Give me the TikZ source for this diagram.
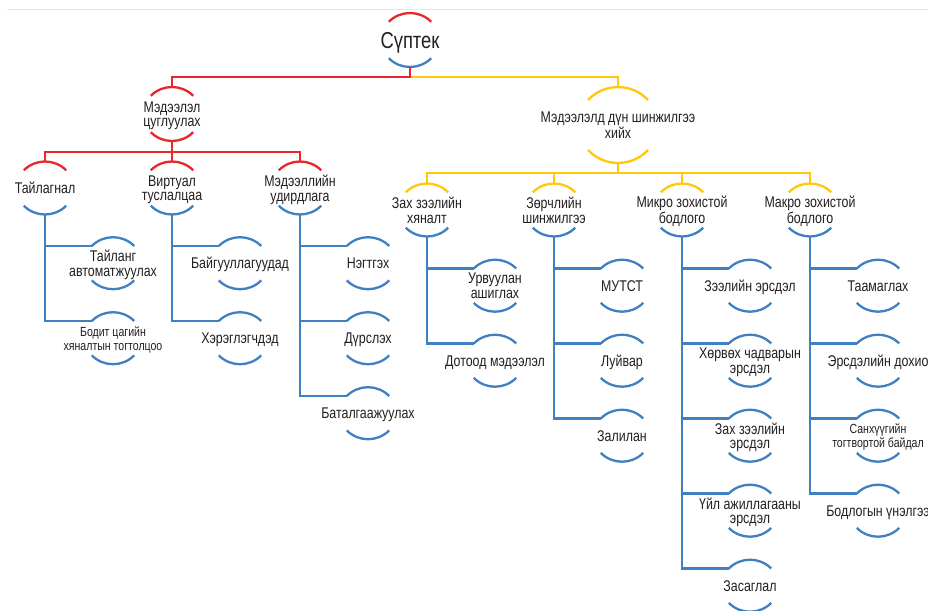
\documentclass[tikz,border=0pt]{standalone}
\usepackage{fontspec}
\setmainfont{Liberation Sans}[FakeStretch=0.8]
\usetikzlibrary{calc}
\definecolor{cred}{RGB}{232,38,44}
\definecolor{cyel}{RGB}{255,200,10}
\definecolor{cblu}{RGB}{62,128,193}
\definecolor{ctxt}{RGB}{35,31,32}
\tikzset{
  txt/.style={inner sep=0pt, align=center, text depth=0pt, text=ctxt, font=\fontsize{15.5}{14.5}\selectfont},
  smalltxt/.style={font=\fontsize{13.2}{14}\selectfont},
  bigtxt/.style={font=\fontsize{23}{24}\selectfont},
  normaltxt/.style={},
  arcline/.style={line width=2.3pt},
  conn/.style={line width=2.3pt},
}
% #1 name, #2 position, #3 half height, #4 arc radius, #5 half angle,
% #6 top colour, #7 bottom colour, #8 text style, #9 text
\newcommand{\arcnode}[9]{%
  \node[txt,#8] (#1) at (#2) {#9};
  \coordinate (#1-w) at ($(#1.center)+(0,#3-#4)+(180-#5:#4pt)$);
  \coordinate (#1-t) at ($(#1.center)+(0,#3)$);
  \coordinate (#1-b) at ($(#1.center)-(0,#3)$);
  \draw[arcline,#6] (#1-w) arc[start angle=180-#5, end angle=#5, radius=#4pt];
  \draw[arcline,#7] ($(#1.center)+(0,#4-#3)+(180+#5:#4pt)$) arc[start angle=180+#5, end angle=360-#5, radius=#4pt];
}
\begin{document}
\begin{tikzpicture}[x=1pt,y=1pt]
\clip (0,0) rectangle (928,-610);
\useasboundingbox (0,0) rectangle (928,-610);
\fill[white] (0,0) rectangle (928,-610);
\draw[black!10, line width=0.8pt] (7,-9) -- (928,-9);

% root and first level
\arcnode{root}{410,-40}{27}{30}{45}{cred}{cblu}{bigtxt}{Сүптек}
\arcnode{mc}{172,-114}{27}{30}{45}{cred}{cred}{normaltxt}{Мэдээлэл\\цуглуулах}
\arcnode{an}{618,-125}{38}{41}{43}{cyel}{cyel}{normaltxt}{Мэдээлэлд дүн шинжилгээ\\хийх}

% second level, red
\arcnode{ta}{45,-188}{26.5}{30}{45}{cred}{cblu}{normaltxt}{Тайлагнал}
\arcnode{vi}{172,-188}{26.5}{30}{45}{cred}{cblu}{normaltxt}{Виртуал\\туслалцаа}
\arcnode{mu}{300,-188}{26.5}{30}{45}{cred}{cblu}{normaltxt}{Мэдээллийн\\удирдлага}

% second level, yellow
\arcnode{zh}{427,-210}{26.5}{30}{45}{cyel}{cblu}{normaltxt}{Зах зээлийн\\хяналт}
\arcnode{zs}{554,-210}{26.5}{30}{45}{cyel}{cblu}{normaltxt}{Зөрчлийн\\шинжилгээ}
\arcnode{mi}{682,-210}{26.5}{30}{45}{cyel}{cblu}{normaltxt}{Микро зохистой\\бодлого}
\arcnode{ma}{810,-210}{26.5}{30}{45}{cyel}{cblu}{normaltxt}{Макро зохистой\\бодлого}

% leaves, red groups
\arcnode{ta1}{113,-263.2}{26}{30}{45}{cblu}{cblu}{normaltxt}{Тайланг\\автоматжуулах}
\arcnode{ta2}{113,-338.2}{26}{30}{45}{cblu}{cblu}{smalltxt}{Бодит цагийн\\хяналтын тогтолцоо}
\arcnode{vi1}{240,-263.2}{26}{30}{45}{cblu}{cblu}{normaltxt}{Байгууллагуудад}
\arcnode{vi2}{240,-338.2}{26}{30}{45}{cblu}{cblu}{normaltxt}{Хэрэглэгчдэд}
\arcnode{mu1}{368,-263.2}{26}{30}{45}{cblu}{cblu}{normaltxt}{Нэгтгэх}
\arcnode{mu2}{368,-338.2}{26}{30}{45}{cblu}{cblu}{normaltxt}{Дүрслэх}
\arcnode{mu3}{368,-413.2}{26}{30}{45}{cblu}{cblu}{normaltxt}{Баталгаажуулах}

% leaves, yellow groups
\arcnode{zh1}{495,-285.7}{26}{30}{45}{cblu}{cblu}{normaltxt}{Урвуулан\\ашиглах}
\arcnode{zh2}{495,-360.7}{26}{30}{45}{cblu}{cblu}{normaltxt}{Дотоод мэдээлэл}
\arcnode{zs1}{622,-285.7}{26}{30}{45}{cblu}{cblu}{normaltxt}{МУТСТ}
\arcnode{zs2}{622,-360.7}{26}{30}{45}{cblu}{cblu}{normaltxt}{Луйвар}
\arcnode{zs3}{622,-435.7}{26}{30}{45}{cblu}{cblu}{normaltxt}{Залилан}
\arcnode{mi1}{750,-285.7}{26}{30}{45}{cblu}{cblu}{normaltxt}{Зээлийн эрсдэл}
\arcnode{mi2}{750,-360.7}{26}{30}{45}{cblu}{cblu}{normaltxt}{Хөрвөх чадварын\\эрсдэл}
\arcnode{mi3}{750,-435.7}{26}{30}{45}{cblu}{cblu}{normaltxt}{Зах зээлийн\\эрсдэл}
\arcnode{mi4}{750,-510.7}{26}{30}{45}{cblu}{cblu}{normaltxt}{Үйл ажиллагааны\\эрсдэл}
\arcnode{mi5}{750,-585.7}{26}{30}{45}{cblu}{cblu}{normaltxt}{Засаглал}
\arcnode{ma1}{878,-285.7}{26}{30}{45}{cblu}{cblu}{normaltxt}{Таамаглах}
\arcnode{ma2}{878,-360.7}{26}{30}{45}{cblu}{cblu}{normaltxt}{Эрсдэлийн дохио}
\arcnode{ma3}{878,-435.7}{26}{30}{45}{cblu}{cblu}{smalltxt}{Санхүүгийн\\тогтвортой байдал}
\arcnode{ma4}{878,-510.7}{26}{30}{45}{cblu}{cblu}{normaltxt}{Бодлогын үнэлгээ}

% connectors, top level
\draw[conn,cyel] (root-b) ++(0,-10) -| (an-t);
\draw[conn,cred] (root-b) -- ++(0,-10) -| (mc-t);
\foreach \c in {ta,vi,mu} \draw[conn,cred] (mc-b) -- ++(0,-11) -| (\c-t);
\foreach \c in {zh,zs,mi,ma} \draw[conn,cyel] (an-b) -- ++(0,-10) -| (\c-t);

% connectors to leaves
\foreach \p/\c in {ta/ta1,ta/ta2,vi/vi1,vi/vi2,mu/mu1,mu/mu2,mu/mu3,
  zh/zh1,zh/zh2,zs/zs1,zs/zs2,zs/zs3,mi/mi1,mi/mi2,mi/mi3,mi/mi4,mi/mi5,
  ma/ma1,ma/ma2,ma/ma3,ma/ma4}
  \draw[conn,cblu] (\p-b) |- (\c-w);
\end{tikzpicture}
\end{document}
